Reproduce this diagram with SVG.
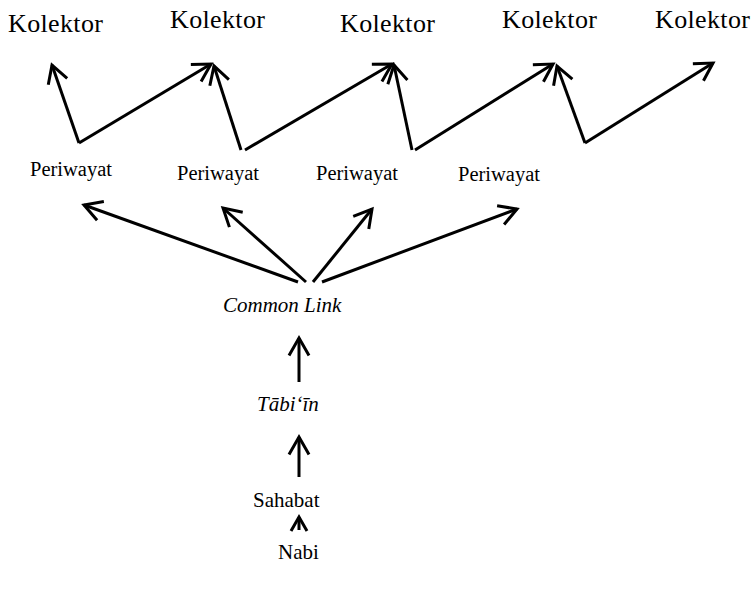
<svg xmlns="http://www.w3.org/2000/svg" width="755" height="589" viewBox="0 0 755 589">
<style>
text{font-family:"Liberation Serif","Times New Roman",serif;fill:#000}
.k{font-size:26px}
.p{font-size:20.5px}
.i{font-style:italic;font-size:21px}
.s{font-size:21px}
.c line{stroke:#000;stroke-width:3;marker-end:url(#ah)}
</style>
<defs>
<marker id="ah" markerUnits="userSpaceOnUse" viewBox="-24 -14 28 28" markerWidth="28" markerHeight="28" refX="0" refY="0" orient="auto" overflow="visible">
<path d="M-17.5,-10 L0,0 L-17.5,10" fill="none" stroke="#000" stroke-width="3"/>
</marker>
<marker id="ahs" markerUnits="userSpaceOnUse" viewBox="-24 -14 28 28" markerWidth="28" markerHeight="28" refX="0" refY="0" orient="auto" overflow="visible">
<path d="M-14,-8 L0,0 L-14,8" fill="none" stroke="#000" stroke-width="3"/>
</marker>
</defs>
<rect width="755" height="589" fill="#fff"/>
<g id="kolektor1"><text class="k" x="8" y="32" textLength="95">Kolektor</text></g>
<g id="kolektor2"><text class="k" x="170" y="28" textLength="95">Kolektor</text></g>
<g id="kolektor3"><text class="k" x="340" y="32" textLength="95">Kolektor</text></g>
<g id="kolektor4"><text class="k" x="502" y="28" textLength="95">Kolektor</text></g>
<g id="kolektor5"><text class="k" x="655" y="28" textLength="95">Kolektor</text></g>
<g id="periwayat1"><text class="p" x="30" y="176">Periwayat</text></g>
<g id="periwayat2"><text class="p" x="177" y="180">Periwayat</text></g>
<g id="periwayat3"><text class="p" x="316" y="180">Periwayat</text></g>
<g id="periwayat4"><text class="p" x="458" y="181">Periwayat</text></g>
<g id="commonlink"><text class="i" x="223" y="312">Common Link</text></g>
<g id="tabiin"><text class="i" x="257" y="411">Tābi‘īn</text></g>
<g id="sahabat"><text class="s" x="253" y="507">Sahabat</text></g>
<g id="nabi"><text class="s" x="278" y="559">Nabi</text></g>
<g id="connectors" class="c">
<line x1="79" y1="143" x2="52" y2="65"/>
<line x1="79" y1="143" x2="211" y2="64"/>
<line x1="241" y1="150" x2="214" y2="66"/>
<line x1="245" y1="150" x2="392" y2="64"/>
<line x1="412" y1="150" x2="394" y2="65"/>
<line x1="415" y1="150" x2="553" y2="64"/>
<line x1="585" y1="143" x2="557" y2="66"/>
<line x1="585" y1="143" x2="713" y2="63"/>
<line x1="298" y1="282" x2="84" y2="205"/>
<line x1="306" y1="282" x2="223" y2="208"/>
<line x1="313" y1="282" x2="372" y2="209"/>
<line x1="322" y1="282" x2="517" y2="209"/>
<line x1="299" y1="382" x2="299" y2="338"/>
<line x1="299" y1="477" x2="299" y2="437"/>
<line x1="299" y1="530" x2="299" y2="517" style="marker-end:url(#ahs)"/>
</g>
</svg>
